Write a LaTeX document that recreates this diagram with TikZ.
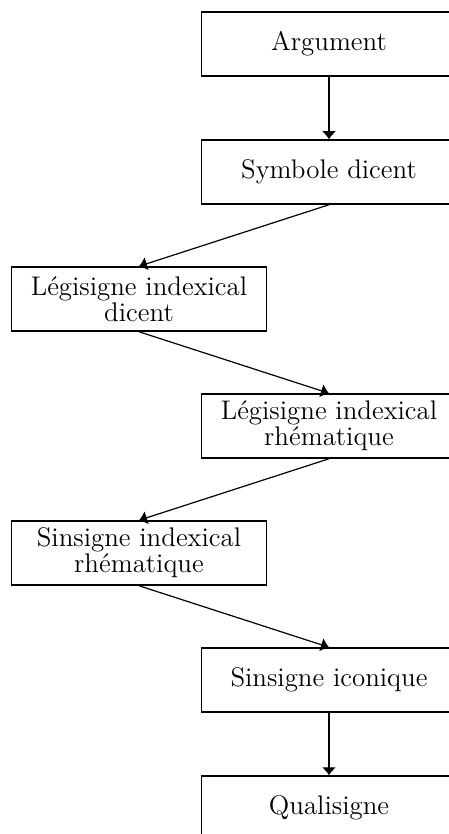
\documentclass[tikz,border=0pt]{standalone}
\usetikzlibrary{arrows.meta}
\begin{document}
\begin{tikzpicture}[x=0.5pt,y=-0.5pt,
  box/.style={draw,line width=0.75pt,rectangle,minimum width=127.5pt,minimum height=32pt,inner sep=2pt,align=center,font=\fontsize{13.45}{11.8}\selectfont},
  arr/.style={line width=0.6pt,-{Latex[length=4pt,width=7pt]}}]
\useasboundingbox (0,0) rectangle (449,834);
\node[box] (a) at (329,44) {Argument};
\node[box] (b) at (329,172) {Symbole dicent};
\node[box] (c) at (139,299) {Légisigne indexical\\dicent};
\node[box] (d) at (329,426) {Légisigne indexical\\rhématique};
\node[box] (e) at (139,553) {Sinsigne indexical\\rhématique};
\node[box] (f) at (329,680) {Sinsigne iconique};
\node[box] (g) at (329,808) {Qualisigne};
\draw[arr] (a.south) -- (b.north);
\draw[arr] (b.south) -- (c.north);
\draw[arr] (c.south) -- (d.north);
\draw[arr] (d.south) -- (e.north);
\draw[arr] (e.south) -- (f.north);
\draw[arr] (f.south) -- (g.north);
\end{tikzpicture}
\end{document}
